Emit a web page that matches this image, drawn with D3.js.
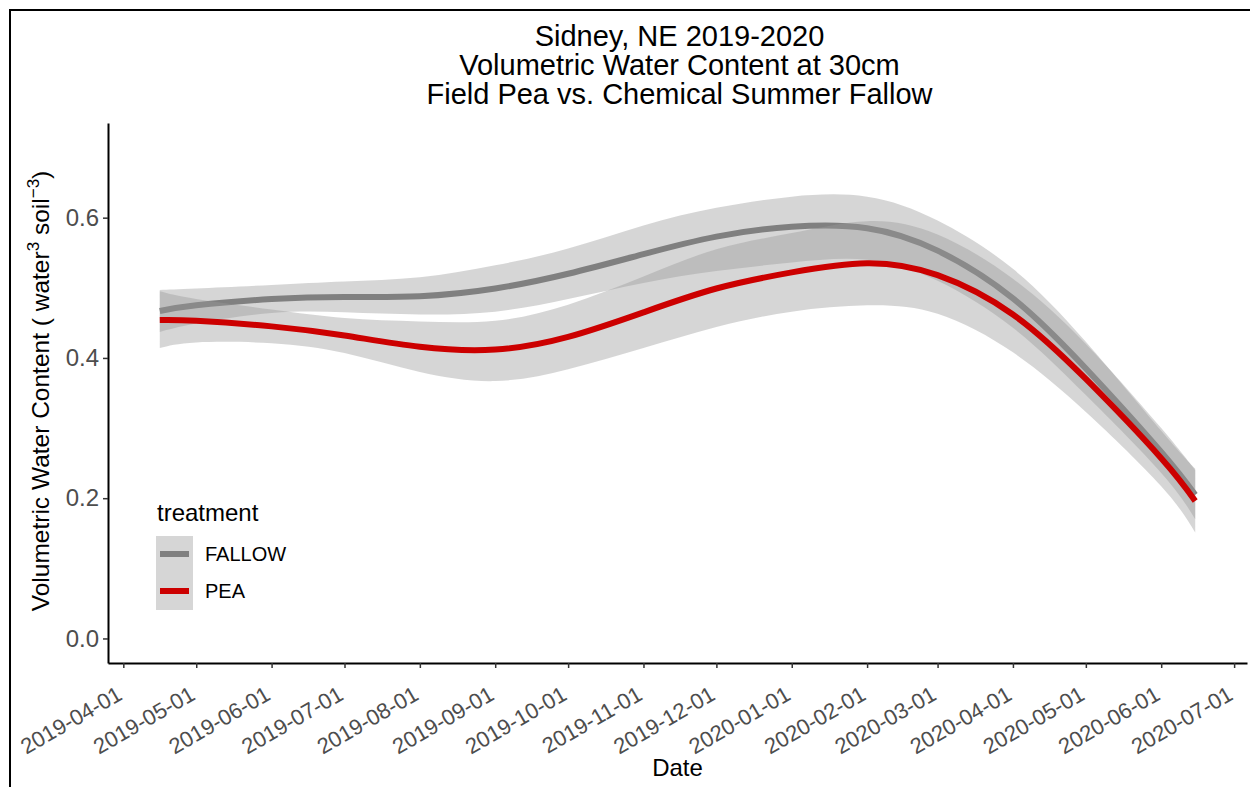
<!DOCTYPE html>
<html>
<head>
<meta charset="utf-8">
<script src="https://cdn.jsdelivr.net/npm/d3@7"></script>
<style>
  body { margin: 0; background: #fff; }
  svg { display: block; font-family: "Liberation Sans", Arial, sans-serif; }
</style>
</head>
<body>
<svg id="chart" width="1250" height="787"></svg>
<script>
// Smoothed soil water content at 30 cm, with confidence band per treatment
const dates = ["2019-04-16","2019-05-01","2019-06-01","2019-07-01","2019-08-01","2019-09-01",
  "2019-10-01","2019-11-01","2019-12-01","2020-01-01","2020-02-01","2020-03-01",
  "2020-04-01","2020-05-01","2020-06-01","2020-06-15"];

const fallowFit = [0.467,0.475,0.484,0.487,0.488,0.499,0.520,0.548,0.573,0.587,0.585,0.553,0.485,0.385,0.266,0.205];
const fallowLo  = [0.437,0.449,0.464,0.465,0.462,0.466,0.484,0.507,0.524,0.536,0.540,0.510,0.443,0.347,0.236,0.170];
const fallowHi  = [0.497,0.499,0.504,0.509,0.515,0.532,0.556,0.589,0.614,0.630,0.630,0.596,0.527,0.423,0.296,0.242];

const peaFit = [0.454,0.453,0.445,0.432,0.416,0.412,0.430,0.465,0.499,0.522,0.535,0.518,0.462,0.370,0.257,0.196];
const peaLo  = [0.414,0.422,0.421,0.407,0.380,0.367,0.384,0.414,0.444,0.466,0.475,0.463,0.408,0.323,0.217,0.151];
const peaHi  = [0.495,0.484,0.469,0.457,0.452,0.453,0.476,0.516,0.555,0.578,0.595,0.576,0.513,0.420,0.300,0.240];

const treatments = ["FALLOW", "PEA"];
const yTicks = [0.0, 0.2, 0.4, 0.6];
const titleLines = ["Sidney, NE 2019-2020", "Volumetric Water Content at 30cm", "Field Pea vs. Chemical Summer Fallow"];

const parse = d3.timeParse("%Y-%m-%d");
const series = [
  { name: treatments[0], color: "#808080", fit: fallowFit, lo: fallowLo, hi: fallowHi },
  { name: treatments[1], color: "#CC0000", fit: peaFit,    lo: peaLo,    hi: peaHi }
].map(s => ({ ...s, pts: dates.map((d, i) => ({ date: parse(d), fit: s.fit[i], lo: s.lo[i], hi: s.hi[i] })) }));

const svg = d3.select("#chart");
const panel = { left: 108, right: 1247, top: 123, bottom: 663 };

// outer plot border
svg.append("rect").attr("x", 10).attr("y", 10).attr("width", 1260).attr("height", 800)
  .attr("fill", "none").attr("stroke", "#000").attr("stroke-width", 2);

// scales with 5% padding like ggplot's default expansion
const dExt = d3.extent(dates.map(parse));
const pad = (dExt[1] - dExt[0]) * 0.05;
const x = d3.scaleTime()
  .domain([new Date(+dExt[0] - pad), new Date(+dExt[1] + pad)])
  .range([panel.left, panel.right]);
const y = d3.scaleLinear()
  .domain([0 - 0.035, 0.7 + 0.035])
  .range([panel.bottom, panel.top]);

const area = d3.area().curve(d3.curveNatural)
  .x(d => x(d.date)).y0(d => y(d.lo)).y1(d => y(d.hi));
const line = d3.line().curve(d3.curveNatural)
  .x(d => x(d.date)).y(d => y(d.fit));

const plot = svg.append("g");
series.forEach(s => {
  plot.append("path").datum(s.pts).attr("d", area)
    .attr("fill", "#999999").attr("fill-opacity", 0.4);
  plot.append("path").datum(s.pts).attr("d", line)
    .attr("fill", "none").attr("stroke", s.color).attr("stroke-width", 6);
});

// axes
const gx = svg.append("g").attr("transform", `translate(0,${panel.bottom})`)
  .call(d3.axisBottom(x).ticks(d3.timeMonth.every(1)).tickFormat(d3.timeFormat("%Y-%m-%d"))
    .tickSize(5).tickSizeOuter(0));
gx.select(".domain").attr("stroke", "#000").attr("stroke-width", 2);
gx.selectAll(".tick line").attr("stroke", "#333").attr("stroke-width", 1.5);
gx.selectAll(".tick text")
  .attr("x", 0).attr("y", 0).attr("dy", "0.71em")
  .attr("transform", "translate(-8,22) rotate(-30)")
  .attr("text-anchor", "end")
  .attr("fill", "#4D4D4D").style("font-size", "22px");

const gy = svg.append("g").attr("transform", `translate(${panel.left},0)`)
  .call(d3.axisLeft(y).tickValues(yTicks).tickFormat(d3.format(".1f")).tickSize(5).tickSizeOuter(0));
gy.select(".domain").attr("stroke", "#000").attr("stroke-width", 2);
gy.selectAll(".tick line").attr("stroke", "#333").attr("stroke-width", 1.5);
gy.selectAll(".tick text").attr("x", -9).attr("fill", "#4D4D4D").style("font-size", "24px");

// titles
svg.append("text").attr("text-anchor", "middle").style("font-size", "29px")
  .selectAll("tspan").data(titleLines).join("tspan")
  .attr("x", (panel.left + panel.right) / 2 + 2)
  .attr("y", (d, i) => 46 + i * 29)
  .text(d => d);

svg.append("text").attr("x", (panel.left + panel.right) / 2).attr("y", 776)
  .attr("text-anchor", "middle").style("font-size", "24px").text("Date");

const yt = svg.append("text")
  .attr("transform", `translate(49,${(panel.top + panel.bottom) / 2 - 2}) rotate(-90)`)
  .attr("text-anchor", "middle").style("font-size", "24.5px");
yt.append("tspan").text("Volumetric Water Content ( water");
yt.append("tspan").attr("dy", -10).style("font-size", "17px").text("3");
yt.append("tspan").attr("dy", 10).text(" soil");
yt.append("tspan").attr("dy", -10).style("font-size", "17px").text("\u22123");
yt.append("tspan").attr("dy", 10).text(")");

// legend
const lg = svg.append("g").attr("transform", "translate(156,0)");
lg.append("text").attr("x", 1).attr("y", 521).style("font-size", "24px").text("treatment");
const key = lg.selectAll("g.key").data(series).join("g").attr("class", "key")
  .attr("transform", (d, i) => `translate(0,${536 + i * 37})`);
key.append("rect").attr("width", 37).attr("height", 37).attr("fill", "#999999").attr("fill-opacity", 0.4);
key.append("line").attr("x1", 4).attr("x2", 33).attr("y1", 18).attr("y2", 18)
  .attr("stroke", d => d.color).attr("stroke-width", 6);
key.append("text").attr("x", 49).attr("y", 18).attr("dy", "0.35em")
  .style("font-size", "20px").text(d => d.name);
</script>
</body>
</html>
